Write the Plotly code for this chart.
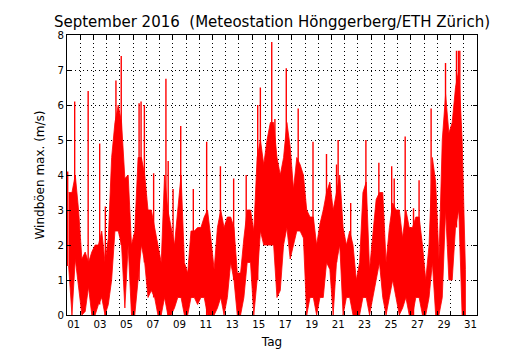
import plotly.graph_objects as go

# Envelope of the 10-min gust record, read per quarter day (Sep 1 00:00 = 0):
# lower edge and top of the dense band
lows = [1.4, 0.0, 1.6, 0.8,  0.0, 0.1, 0.8, 0.0,  0.0, 0.3, 0.5, 0.0,
        0.3, 1.0, 2.4, 2.4,  2.0, 0.2, 2.0, 0.0,  0.0, 1.0, 2.0, 1.5,
        0.5, 0.7, 0.5, 0.0,  0.0, 0.5, 0.0, 0.0,  0.2, 0.5, 0.5, 0.0,
        0.0, 0.5, 0.5, 0.3,  0.5, 0.5, 0.0, 0.0,  0.0, 0.2, 0.5, 0.0,
        0.5, 1.5, 1.0, 0.0,  0.0, 0.5, 1.5, 1.5,  0.0, 1.0, 2.4, 2.0,
        2.0, 2.0, 2.0, 0.5,  0.7, 2.0, 2.5, 1.6,  2.0, 2.4, 2.4, 2.2,
        0.0, 0.5, 0.5, 0.0,  0.5, 0.5, 1.5, 1.3,  0.0, 1.5, 2.0, 0.0,
        0.5, 0.5, 0.0, 0.0,  0.0, 0.5, 0.5, 0.0,  0.5, 1.0, 1.5, 0.5,
        0.0, 0.5, 1.0, 0.5,  0.0, 0.2, 0.5, 0.0,  0.0, 0.5, 0.5, 0.0,
        0.0, 0.5, 1.5, 0.0,  0.0, 0.5, 3.0, 1.0,  1.0, 2.5, 3.0, 0.0,
        0.0]
band = [3.5, 3.5, 4.0, 3.0,  1.6, 1.8, 1.5, 1.8,  2.0, 2.0, 2.4, 1.5,
        2.2, 4.5, 5.5, 6.0,  5.5, 3.9, 4.0, 2.0,  2.4, 4.5, 4.5, 4.0,
        3.0, 3.0, 2.5, 2.0,  1.5, 4.0, 3.0, 2.5,  2.0, 3.0, 4.0, 1.5,
        1.2, 2.4, 2.4, 2.5,  2.5, 2.8, 3.0, 2.2,  1.3, 2.5, 3.0, 2.5,
        2.8, 2.8, 2.5, 1.2,  1.2, 2.2, 3.0, 3.0,  2.4, 4.5, 5.0, 4.3,
        5.0, 5.5, 5.5, 4.5,  4.0, 4.5, 5.5, 4.8,  3.6, 4.5, 4.3, 4.0,
        3.0, 2.8, 2.8, 2.0,  2.6, 3.0, 3.5, 3.8,  3.0, 3.5, 4.0, 2.5,
        2.0, 2.4, 2.0, 1.0,  1.5, 3.5, 3.8, 1.3,  2.2, 3.3, 3.5, 3.5,
        1.5, 2.5, 3.2, 3.0,  3.0, 2.2, 3.0, 2.5,  2.5, 2.8, 2.8, 2.0,
        1.0, 2.0, 4.5, 3.8,  1.6, 5.0, 6.3, 5.2,  5.5, 6.5, 7.0, 5.0,
        1.3]

# Narrow gust peaks rising above the band (day offset, m/s)
spike_day = [0.05, 0.58, 1.60, 2.47, 2.90, 3.70, 4.10, 5.45, 5.60, 5.85,
             6.55, 7.48, 7.65, 8.02, 8.60, 9.55, 10.56, 11.60, 12.60, 13.55,
             14.42, 14.62, 15.48, 15.72, 16.58, 17.48, 18.60, 19.62, 20.38, 20.50,
             21.45, 22.60, 23.58, 24.55, 24.74, 25.57, 26.20, 26.62, 27.53, 28.62,
             29.45, 29.60, 29.70]
spike_val = [4.1, 6.1, 6.4, 4.9, 3.1, 6.7, 7.4, 6.05, 6.1, 6.0,
             4.05, 6.75, 4.4, 3.6, 5.4, 3.6, 4.95, 4.25, 3.9, 4.0,
             6.0, 6.5, 7.8, 5.6, 7.05, 5.9, 4.95, 4.6, 4.3, 5.0,
             3.2, 5.0, 4.35, 4.25, 3.9, 5.1, 3.05, 3.85, 5.9, 7.2,
             7.55, 7.55, 7.55]

label_days = list(range(1, 32, 2))
day_labels = ["%02d" % d for d in label_days]
y_ticks = list(range(0, 9))

step = 0.25
centers = [i * step + step / 2 for i in range(len(band))]
poly_x = centers + centers[::-1]
poly_y = band + lows[::-1]

spk_x, spk_y = [], []
for d, val in zip(spike_day, spike_val):
    spk_x += [d, d, None]
    spk_y += [lows[int(d / step)], val, None]

fig = go.Figure()
fig.add_trace(go.Scatter(x=poly_x, y=poly_y, mode="lines",
                         fill="toself", fillcolor="#ff0000",
                         line=dict(color="#ff0000", width=0.8),
                         hoverinfo="skip"))
fig.add_trace(go.Scatter(x=spk_x, y=spk_y, mode="lines",
                         line=dict(color="#ff0000", width=1.4),
                         hoverinfo="skip"))

# the page body adds an 8px margin, so the figure is 8px smaller than the window
fig.update_layout(
    width=522, height=342,
    margin=dict(l=59, r=53, t=27, b=35),
    plot_bgcolor="white", paper_bgcolor="white",
    showlegend=False,
    font=dict(family="DejaVu Sans", size=10.2, color="black"),
    title=dict(text="September 2016  (Meteostation Hönggerberg/ETH Zürich)",
               x=0.5, xref="paper", xanchor="center",
               y=1, yref="paper", yanchor="bottom", pad=dict(b=8),
               font=dict(size=15, family="DejaVu Sans", color="black")),
)

fig.update_xaxes(
    range=[0, 31], tickmode="array",
    tickvals=[d - 0.5 for d in label_days], ticktext=day_labels,
    ticks="", showgrid=False, zeroline=False, automargin=False,
    showline=True, mirror="allticks", linecolor="black", linewidth=1,
    minor=dict(tickmode="array", tickvals=list(range(1, 31)),
               ticks="inside", ticklen=4, tickcolor="black",
               showgrid=True, gridcolor="black", gridwidth=0.6,
               griddash="1px,3px"),
    title=dict(text="Tag", standoff=8),
)
fig.update_yaxes(
    range=[0, 8], tickmode="array", tickvals=y_ticks,
    ticks="inside", ticklen=4, tickcolor="black",
    showgrid=True, gridcolor="black", gridwidth=0.6, griddash="1px,3px",
    zeroline=False, automargin=False,
    showline=True, mirror="allticks", linecolor="black", linewidth=1,
    title=dict(text="Windböen max. (m/s)", standoff=10),
)

fig.write_html("out.html")
